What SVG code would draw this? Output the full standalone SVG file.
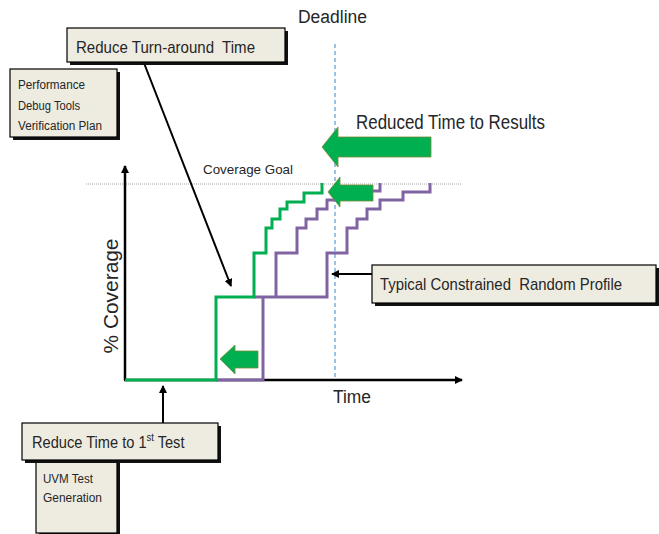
<svg xmlns="http://www.w3.org/2000/svg" width="659" height="534" viewBox="0 0 659 534">
  <defs>
    <marker id="tipBlack" markerWidth="8" markerHeight="8" refX="7" refY="4" orient="auto" markerUnits="userSpaceOnUse">
      <path d="M0,0 L8,4 L0,8 Z" fill="#000"/>
    </marker>
    <style>
      text { font-family: "Liberation Sans", Arial, sans-serif; fill: #262626; }
      .box { fill: #EEECE1; stroke: #000; stroke-width: 1.2; }
      .shadow { fill: #111; }
      .green { fill: none; stroke: #00B050; stroke-width: 3; stroke-linejoin: miter; }
      .purple { fill: none; stroke: #8064A2; stroke-width: 3; stroke-linejoin: miter; }
      .axis { fill: none; stroke: #000; stroke-width: 2.5; }
      .conn { fill: none; stroke: #000; stroke-width: 2; }
      .fat { fill: #00B050; stroke: #7A8A3A; stroke-width: 0.8; }
    </style>
  </defs>

  <rect width="659" height="534" fill="#fff"/>

  <!-- reference lines -->
  <line x1="86" y1="184" x2="462" y2="184" stroke="#A6A6A6" stroke-width="1" stroke-dasharray="1,1"/>
  <line x1="335" y1="44" x2="335" y2="380" stroke="#5B9BD5" stroke-width="1.2" stroke-dasharray="4,3"/>

  <!-- axes -->
  <g id="axes">
    <line class="axis" x1="125" y1="380" x2="125" y2="166" marker-end="url(#tipBlack)"/>
    <line class="axis" x1="124" y1="380" x2="462" y2="380" marker-end="url(#tipBlack)"/>
  </g>

  <!-- coverage profiles -->
  <g id="profiles">
    <path class="purple" d="M216,380 H263 V297"/>
    <path class="purple" d="M254,297 H327 V253 H347 V228 H357 V219 H367 V209 H380 V200 H403 V192 H430 V183"/>
    <path class="purple" d="M276,297 V253 H297 V228 H306 V219 H317 V209 H327 V200 H336 V191 H380 V183"/>
    <path class="green" d="M125,380 H216 V297 H254 V253 H266 V228 H272 V219 H280 V209 H287 V202 H304 V193 H322 V183"/>
  </g>

  <!-- block arrows -->
  <g id="fat-arrows">
    <path class="fat" d="M322,147 L338,127 L338,137 L431,137 L431,157 L338,157 L338,167 Z"/>
    <path class="fat" d="M328,192 L340,177 L340,185 L373,185 L373,201 L340,201 L340,207 Z"/>
    <path class="fat" d="M220,359 L235,345 L235,351 L258,351 L258,368 L235,368 L235,374 Z"/>
  </g>

  <!-- connectors -->
  <g id="connectors">
    <line class="conn" x1="144" y1="63" x2="231" y2="286" marker-end="url(#tipBlack)"/>
    <line class="conn" x1="163" y1="423" x2="163" y2="386" marker-end="url(#tipBlack)"/>
    <line class="conn" x1="372" y1="274" x2="332" y2="274" marker-end="url(#tipBlack)"/>
  </g>

  <!-- free labels -->
  <text x="298" y="23" font-size="18" textLength="69" lengthAdjust="spacingAndGlyphs">Deadline</text>
  <text x="356" y="129" font-size="20" textLength="189" lengthAdjust="spacingAndGlyphs">Reduced Time to Results</text>
  <text x="203" y="174" font-size="13" textLength="90" lengthAdjust="spacingAndGlyphs">Coverage Goal</text>
  <text x="333" y="403" font-size="18" textLength="38" lengthAdjust="spacingAndGlyphs">Time</text>
  <text transform="translate(118,296) rotate(-90)" text-anchor="middle" font-size="20" textLength="115" lengthAdjust="spacingAndGlyphs">% Coverage</text>

  <!-- callout boxes -->
  <g id="turnaround">
    <rect class="shadow" x="70" y="31" width="218" height="34"/>
    <rect class="box" x="67" y="28" width="218" height="34"/>
    <text x="76" y="53" font-size="17" textLength="179" lengthAdjust="spacingAndGlyphs">Reduce Turn-around&#160; Time</text>
  </g>

  <g id="perf-tools">
    <rect class="shadow" x="13" y="72" width="107" height="68"/>
    <rect class="box" x="10" y="69" width="107" height="68"/>
    <text x="18" y="89" font-size="12.5" textLength="67" lengthAdjust="spacingAndGlyphs">Performance</text>
    <text x="18" y="110" font-size="12.5" textLength="62" lengthAdjust="spacingAndGlyphs">Debug Tools</text>
    <text x="18" y="130" font-size="12.5" textLength="84" lengthAdjust="spacingAndGlyphs">Verification Plan</text>
  </g>

  <g id="profile-label">
    <rect class="shadow" x="375" y="268" width="284" height="38"/>
    <rect class="box" x="372" y="265" width="284" height="38"/>
    <text x="380" y="290" font-size="17" textLength="242" lengthAdjust="spacingAndGlyphs">Typical Constrained&#160; Random Profile</text>
  </g>

  <g id="uvm-gen">
    <rect class="shadow" x="39" y="463" width="81" height="73"/>
    <rect class="box" x="36" y="460" width="81" height="73"/>
    <text x="43" y="483" font-size="12.5" textLength="50" lengthAdjust="spacingAndGlyphs">UVM Test</text>
    <text x="43" y="502" font-size="12.5" textLength="59" lengthAdjust="spacingAndGlyphs">Generation</text>
  </g>

  <g id="first-test">
    <rect class="shadow" x="25" y="426" width="196" height="37"/>
    <rect class="box" x="22" y="423" width="196" height="37"/>
    <text transform="translate(32,448) scale(0.86,1)" font-size="17">Reduce Time to 1<tspan font-size="11" dy="-7">st</tspan><tspan dy="7"> Test</tspan></text>
  </g>
</svg>
